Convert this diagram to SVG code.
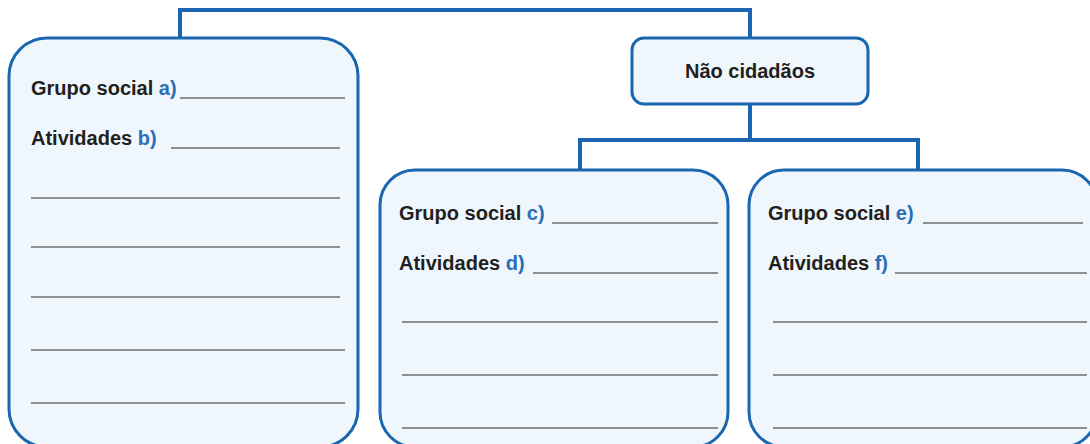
<svg xmlns="http://www.w3.org/2000/svg" width="1090" height="444" viewBox="0 0 1090 444">
<style>
.box{fill:#eff7fc;stroke:#1a66b0;stroke-width:3}
.conn{fill:none;stroke:#1a66b0;stroke-width:4}
.t{font-family:"Liberation Sans",Arial,sans-serif;font-weight:bold;font-size:20px;fill:#231f20}
.lbl{fill:#2a6db8}
.ln{stroke:#8f8f8f;stroke-width:2}
</style>
<rect width="1090" height="444" fill="#ffffff"/>
<g id="connectors">
<path class="conn" d="M180 38 V10 H750 V38"/>
<path class="conn" d="M750 104 V140"/>
<path class="conn" d="M580 170 V140 H918 V170"/>
</g>
<g id="cidadaos">
<rect class="box" x="9" y="38" width="349" height="409" rx="38"/>
<text class="t" x="31" y="95">Grupo social <tspan class="lbl">a)</tspan></text>
<line class="ln" x1="180" y1="98" x2="345" y2="98"/>
<text class="t" x="31" y="145">Atividades <tspan class="lbl">b)</tspan></text>
<line class="ln" x1="171" y1="148" x2="340" y2="148"/>
<line class="ln" x1="31" y1="198" x2="340" y2="198"/>
<line class="ln" x1="31" y1="247" x2="340" y2="247"/>
<line class="ln" x1="31" y1="297" x2="340" y2="297"/>
<line class="ln" x1="31" y1="350" x2="345" y2="350"/>
<line class="ln" x1="31" y1="403" x2="345" y2="403"/>
</g>
<g id="nao-cidadaos">
<rect class="box" x="632" y="38" width="236" height="66" rx="12"/>
<text class="t" x="750" y="78" text-anchor="middle">Não cidadãos</text>
</g>
<g id="grupo-c">
<rect class="box" x="380" y="170" width="348" height="277" rx="35"/>
<text class="t" x="399" y="220">Grupo social <tspan class="lbl">c)</tspan></text>
<line class="ln" x1="552" y1="223" x2="718" y2="223"/>
<text class="t" x="399" y="270">Atividades <tspan class="lbl">d)</tspan></text>
<line class="ln" x1="533" y1="273" x2="718" y2="273"/>
<line class="ln" x1="402" y1="322" x2="718" y2="322"/>
<line class="ln" x1="402" y1="375" x2="718" y2="375"/>
<line class="ln" x1="402" y1="428" x2="718" y2="428"/>
</g>
<g id="grupo-e">
<rect class="box" x="749" y="170" width="348" height="277" rx="35"/>
<text class="t" x="768" y="220">Grupo social <tspan class="lbl">e)</tspan></text>
<line class="ln" x1="923" y1="223" x2="1083" y2="223"/>
<text class="t" x="768" y="270">Atividades <tspan class="lbl">f)</tspan></text>
<line class="ln" x1="895" y1="273" x2="1087" y2="273"/>
<line class="ln" x1="773" y1="322" x2="1087" y2="322"/>
<line class="ln" x1="773" y1="375" x2="1087" y2="375"/>
<line class="ln" x1="773" y1="428" x2="1087" y2="428"/>
</g>
</svg>
